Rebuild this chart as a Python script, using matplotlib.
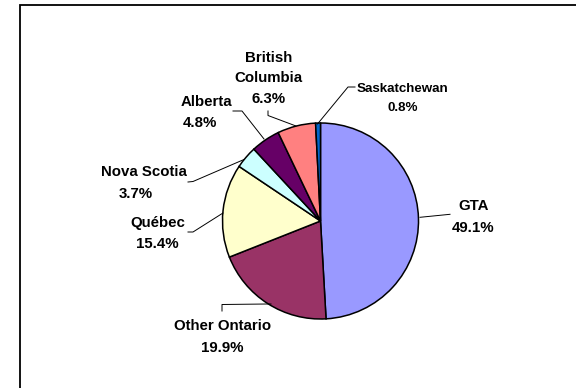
import matplotlib
matplotlib.use("Agg")
import matplotlib.pyplot as plt

# share of results by region
regions = ["GTA", "Other Ontario", "Québec", "Nova Scotia", "Alberta",
           "British\nColumbia", "Saskatchewan"]
shares = [49.1, 19.9, 15.4, 3.7, 4.8, 6.3, 0.8]
colours = ["#9999FF", "#993366", "#FFFFCC", "#CCFFFF", "#660066",
           "#FF8080", "#0066CC"]

# label layout in pixels (top-left origin): name centre, percent centre, size
name_pos = [(473.5, 205), (222.5, 325), (158, 222), (143.5, 171),
            (206, 101), (268.5, 57), (402.5, 87)]
pct_pos = [(473.5, 227), (222.5, 347), (157.5, 243), (136, 193),
           (199.5, 122), (269, 98), (402.5, 106)]
font_sizes = [10.8, 10.8, 10.8, 10.8, 10.8, 10.8, 9.6]
# leader lines, pixel points from label to slice
leaders = [
    [(450, 214.3), (420, 217.3)],
    [(222, 311), (222, 304.5), (267, 304), (271, 304)],
    [(188, 232), (193, 232), (223, 213)],
    [(188, 182), (193, 181.5), (244, 159.5)],
    [(233, 111), (242, 111), (264, 139)],
    [(268, 111), (268, 115.5), (296, 126)],
    [(355, 87), (348, 87), (317.5, 124)],
]

W, H = 576, 388
cx, cy, r = 320.5, 221, 98


def fy(y):
    return H - y


fig = plt.figure(figsize=(W / 100, H / 100), dpi=100)
ax = fig.add_axes([0, 0, 1, 1])
ax.pie(shares, colors=colours, startangle=90, counterclock=False,
       center=(cx, fy(cy)), radius=r, frame=True,
       wedgeprops=dict(edgecolor="black", linewidth=1.1))
ax.set_xlim(0, W)
ax.set_ylim(0, H)
ax.set_aspect("equal")
ax.axis("off")

# chart frame, runs off the right and bottom edges
ax.plot([19.7, 19.7, W + 5], [fy(H + 5), fy(4.7), fy(4.7)],
        color="black", lw=1.3, solid_joinstyle="miter", clip_on=False)

for i, name in enumerate(regions):
    fs = font_sizes[i]
    cap = fs * 100 / 72 * 0.716
    lines = name.split("\n")
    nx, ny = name_pos[i]
    step = 20
    for k, line in enumerate(lines):
        ax.text(nx, fy(ny + k * step + cap / 2), line, ha="center",
                va="baseline", fontsize=fs, fontweight="bold",
                family=["Liberation Sans", "DejaVu Sans"])
    px, py = pct_pos[i]
    ax.text(px, fy(py + cap / 2), f"{shares[i]:.1f}%", ha="center",
            va="baseline", fontsize=fs, fontweight="bold",
            family=["Liberation Sans", "DejaVu Sans"])
    xs = [p[0] for p in leaders[i]]
    ys = [fy(p[1]) for p in leaders[i]]
    ax.plot(xs, ys, color="black", lw=0.7)

fig.savefig("out.png", dpi=100)
